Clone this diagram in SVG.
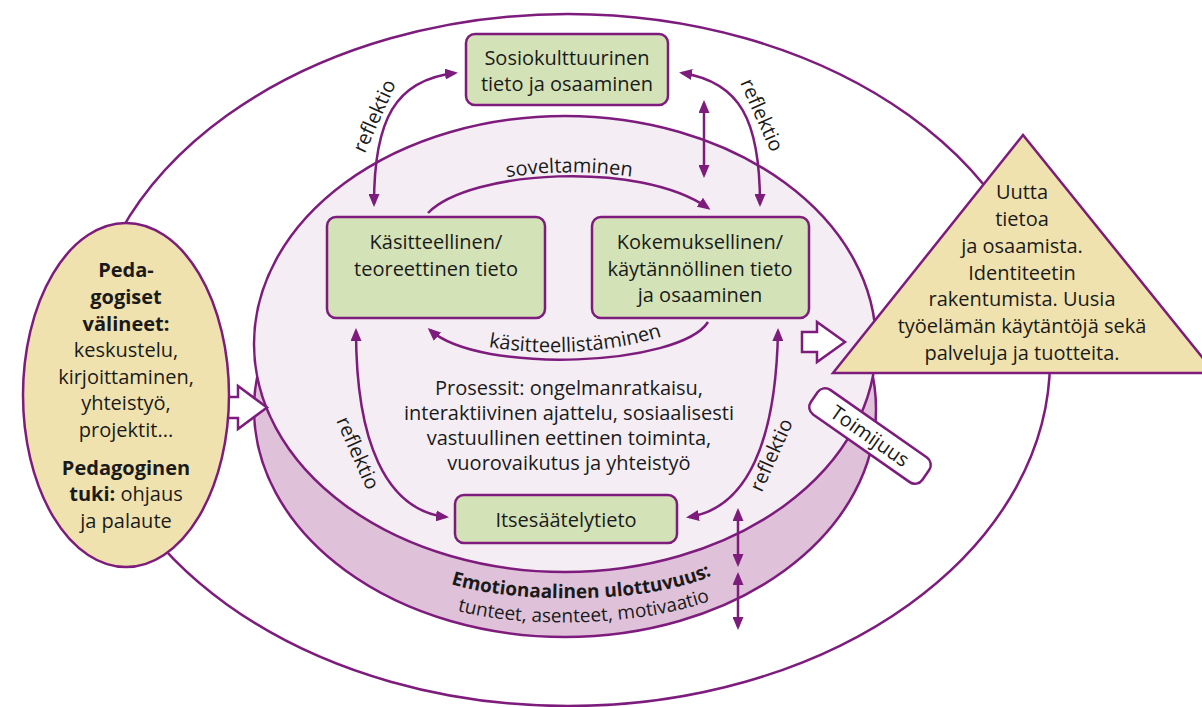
<svg xmlns="http://www.w3.org/2000/svg" width="1202" height="707" viewBox="0 0 1202 707">
<style>
.ln{fill:none;stroke:#7d1c7c;stroke-width:2.5}
.bx{fill:#d4e2b8;stroke:#7d1c7c;stroke-width:2.5}
.t{font-family:'Open Sans','Noto Sans',sans-serif;font-size:20px;fill:#1a1a1a;text-anchor:middle}
.b{font-weight:bold}
.s19{font-size:19px}
.blk{fill:#fff;stroke:#7d1c7c;stroke-width:2.5;stroke-linejoin:miter}
</style>
<defs>
<marker id="ah" viewBox="0 0 13 11" refX="10" refY="5.5" markerWidth="13" markerHeight="11" orient="auto-start-reverse" markerUnits="userSpaceOnUse">
<path d="M0,0 L13,5.5 L0,11 Z" fill="#7d1c7c"/>
</marker>
<path id="pSov" d="M440,200 C490,166 630,162 700,196"/>
<path id="pKas" d="M470,343 C520,356 610,358 680,330"/>
<path id="pEmo" d="M440,580 C500,605 660,607 722,570"/>
<path id="pTun" d="M445,607 C510,630 650,628 722,596"/>
</defs>

<g id="outer">
<ellipse cx="568" cy="360" rx="482" ry="346" fill="#fff" stroke="#7d1c7c" stroke-width="2.5"/>
</g>

<g id="cylinder">
<ellipse cx="565" cy="409" rx="311" ry="228" fill="#dfc2d9" stroke="#7d1c7c" stroke-width="2.5"/>
<ellipse cx="565" cy="344" rx="311" ry="228" fill="#f4edf3" stroke="#7d1c7c" stroke-width="2.5"/>
</g>

<g id="pedagogiset">
<path class="blk" d="M226,397 L238,397 L238,386 L267,407.5 L238,429 L238,418 L226,418"/>
<ellipse cx="126" cy="395" rx="103" ry="172" fill="#f0e2ae" stroke="#7d1c7c" stroke-width="2.5"/>
<text class="t b" x="126" y="277">Peda-</text>
<text class="t b" x="126" y="304">gogiset</text>
<text class="t b" x="126" y="331">välineet:</text>
<text class="t" x="126" y="357">keskustelu,</text>
<text class="t" x="126" y="384">kirjoittaminen,</text>
<text class="t" x="126" y="410">yhteistyö,</text>
<text class="t" x="126" y="437">projektit...</text>
<text class="t b" x="126" y="475">Pedagoginen</text>
<text class="t" x="126" y="501"><tspan class="b">tuki:</tspan> ohjaus</text>
<text class="t" x="126" y="528">ja palaute</text>
</g>

<g id="connectors">
<path class="ln" d="M374,204 C374,120 395,80 455,73" marker-start="url(#ah)" marker-end="url(#ah)"/>
<path class="ln" d="M760,204 C760,120 740,82 682,73" marker-start="url(#ah)" marker-end="url(#ah)"/>
<path class="ln" d="M704,103 L704,175" marker-start="url(#ah)" marker-end="url(#ah)"/>
<path class="ln" d="M428,213 C470,170 640,160 708,208" marker-end="url(#ah)"/>
<path class="ln" d="M708,322 C680,366 480,375 430,330" marker-end="url(#ah)"/>
<path class="ln" d="M356,331 C356,440 385,510 446,517" marker-start="url(#ah)" marker-end="url(#ah)"/>
<path class="ln" d="M778,331 C776,440 748,508 689,517" marker-start="url(#ah)" marker-end="url(#ah)"/>
<path class="ln" d="M738,511 L738,564" marker-start="url(#ah)" marker-end="url(#ah)"/>
<path class="ln" d="M738,575 L738,627" marker-start="url(#ah)" marker-end="url(#ah)"/>
<text class="t" transform="translate(374,116) rotate(-66)" y="7">reflektio</text>
<text class="t" transform="translate(762,115) rotate(66)" y="7">reflektio</text>
<text class="t" transform="translate(358,453) rotate(66)" y="7">reflektio</text>
<text class="t" transform="translate(771,455) rotate(-66)" y="7">reflektio</text>
<text class="t"><textPath href="#pSov" startOffset="50%">soveltaminen</textPath></text>
<text class="t"><textPath href="#pKas" startOffset="50%">käsitteellistäminen</textPath></text>
</g>

<g id="sosio">
<rect class="bx" x="466" y="34" width="202" height="71" rx="9"/>
<text class="t" x="567" y="65">Sosiokulttuurinen</text>
<text class="t" x="567" y="91">tieto ja osaaminen</text>
</g>

<g id="kasitteellinen">
<rect class="bx" x="327" y="217" width="218" height="101" rx="9"/>
<text class="t" x="436" y="249">Käsitteellinen/</text>
<text class="t" x="436" y="276">teoreettinen tieto</text>
</g>

<g id="kokemuksellinen">
<rect class="bx" x="592" y="217" width="217" height="101" rx="9"/>
<text class="t" x="700" y="249">Kokemuksellinen/</text>
<text class="t" x="700" y="276">käytännöllinen tieto</text>
<text class="t" x="700" y="302">ja osaaminen</text>
</g>

<g id="prosessit">
<text class="t" x="569" y="395">Prosessit: ongelmanratkaisu,</text>
<text class="t" x="569" y="420">interaktiivinen ajattelu, sosiaalisesti</text>
<text class="t" x="569" y="445">vastuullinen eettinen toiminta,</text>
<text class="t" x="569" y="470">vuorovaikutus ja yhteistyö</text>
</g>

<g id="itsesaately">
<rect class="bx" x="455" y="495" width="222" height="48" rx="9"/>
<text class="t" x="566" y="527">Itsesäätelytieto</text>
</g>

<g id="emotionaalinen">
<text class="t b s19"><textPath href="#pEmo" startOffset="50%">Emotionaalinen ulottuvuus:</textPath></text>
<text class="t s19"><textPath href="#pTun" startOffset="50%">tunteet, asenteet, motivaatio</textPath></text>
</g>

<g id="uutta">
<path class="blk" d="M802,332 L817,332 L817,322 L845,342 L817,362 L817,352 L802,352 Z"/>
<polygon points="1023,135 833,373 1215,373" fill="#f0e2ae" stroke="#7d1c7c" stroke-width="2.5"/>
<text class="t" x="1022" y="199">Uutta</text>
<text class="t" x="1022" y="226">tietoa</text>
<text class="t" x="1022" y="253">ja osaamista.</text>
<text class="t" x="1022" y="280">Identiteetin</text>
<text class="t" x="1022" y="306">rakentumista. Uusia</text>
<text class="t" x="1022" y="333">työelämän käytäntöjä sekä</text>
<text class="t" x="1022" y="360">palveluja ja tuotteita.</text>
</g>

<g id="toimijuus" transform="translate(870,436) rotate(35)">
<rect class="blk" x="-68" y="-15" width="136" height="30" rx="9"/>
<text class="t" y="7">Toimijuus</text>
</g>
</svg>
